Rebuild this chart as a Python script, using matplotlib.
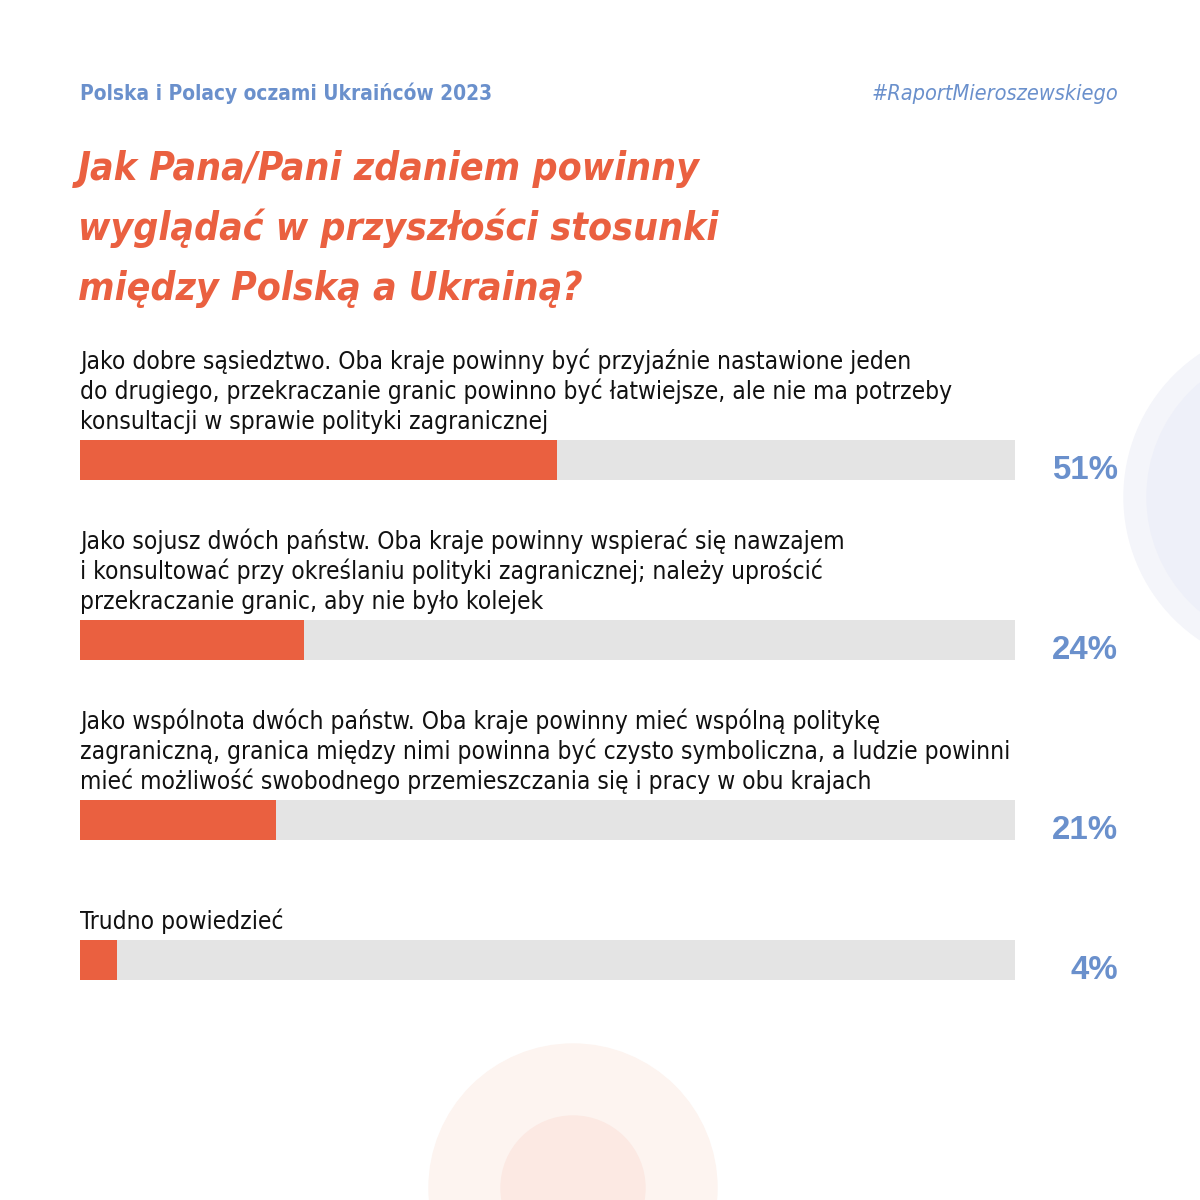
import matplotlib
matplotlib.use("Agg")
import matplotlib.pyplot as plt
from matplotlib.patches import Circle

# chart data
header_left = "Polska i Polacy oczami Ukraińców 2023"
header_right = "#RaportMieroszewskiego"
title_lines = [
    "Jak Pana/Pani zdaniem powinny",
    "wyglądać w przyszłości stosunki",
    "między Polską a Ukrainą?",
]
answers = [
    ["Jako dobre sąsiedztwo. Oba kraje powinny być przyjaźnie nastawione jeden",
     "do drugiego, przekraczanie granic powinno być łatwiejsze, ale nie ma potrzeby",
     "konsultacji w sprawie polityki zagranicznej"],
    ["Jako sojusz dwóch państw. Oba kraje powinny wspierać się nawzajem",
     "i konsultować przy określaniu polityki zagranicznej; należy uprościć",
     "przekraczanie granic, aby nie było kolejek"],
    ["Jako wspólnota dwóch państw. Oba kraje powinny mieć wspólną politykę",
     "zagraniczną, granica między nimi powinna być czysto symboliczna, a ludzie powinni",
     "mieć możliwość swobodnego przemieszczania się i pracy w obu krajach"],
    ["Trudno powiedzieć"],
]
values = [51, 24, 21, 4]

# layout (pixels)
bar_tops = [440, 620, 800, 940]
bar_h = 40
line_gap = 30

ORANGE = "#EA6040"
GREY = "#E4E4E4"
BLUE = "#6A90CC"
DPI = 100


def pt(px):
    # pixel size -> points
    return px * 72 / DPI


fig = plt.figure(figsize=(12, 12), dpi=DPI)
fig.patch.set_facecolor("white")

# background layer in pixel coordinates
ax = fig.add_axes([0, 0, 1, 1])
ax.set_xlim(0, 1200)
ax.set_ylim(1200, 0)
ax.axis("off")

# decorative circles
ax.add_patch(Circle((1296, 497), 172, color="#F4F5FA", zorder=0))
ax.add_patch(Circle((1296, 497), 149, color="#EEF0F9", zorder=0))
ax.add_patch(Circle((573, 1188), 144, color="#FDF4F0", zorder=0))
ax.add_patch(Circle((573, 1188), 72, color="#FCE9E3", zorder=0))

cond = dict(family="DejaVu Sans", stretch="condensed")

ax.text(80, 100, header_left, color=BLUE, fontsize=pt(20.8), fontweight="bold",
        ha="left", va="baseline", **cond)
ax.text(1118, 100, header_right, color=BLUE, fontsize=pt(21.6), style="italic",
        ha="right", va="baseline", **cond)

for i, line in enumerate(title_lines):
    ax.text(78, 180 + 60 * i, line, color=ORANGE, fontsize=pt(39),
            fontweight="bold", style="italic", ha="left", va="baseline", **cond)

# bar layer: x in percent, y in pixels
bx = fig.add_axes([80 / 1200, 0, 935 / 1200, 1])
bx.set_xlim(0, 100)
bx.set_ylim(1200, 0)
bx.axis("off")
bx.patch.set_alpha(0)

centers = [t + bar_h / 2 for t in bar_tops]
bx.barh(centers, [100] * len(values), height=bar_h, left=0, color=GREY, zorder=1)
bx.barh(centers, values, height=bar_h, left=0, color=ORANGE, zorder=2)

for lines, t, v in zip(answers, bar_tops, values):
    n = len(lines)
    for j, line in enumerate(lines):
        ax.text(80, t - 11 - line_gap * (n - 1 - j), line, color="#111111",
                fontsize=pt(24.4), ha="left", va="baseline", **cond)
    ax.text(1118, t + 39, f"{v}%", color=BLUE, fontsize=pt(33),
            fontweight="bold", family="Liberation Sans", ha="right", va="baseline")

fig.savefig("out.png", dpi=DPI, facecolor="white")
